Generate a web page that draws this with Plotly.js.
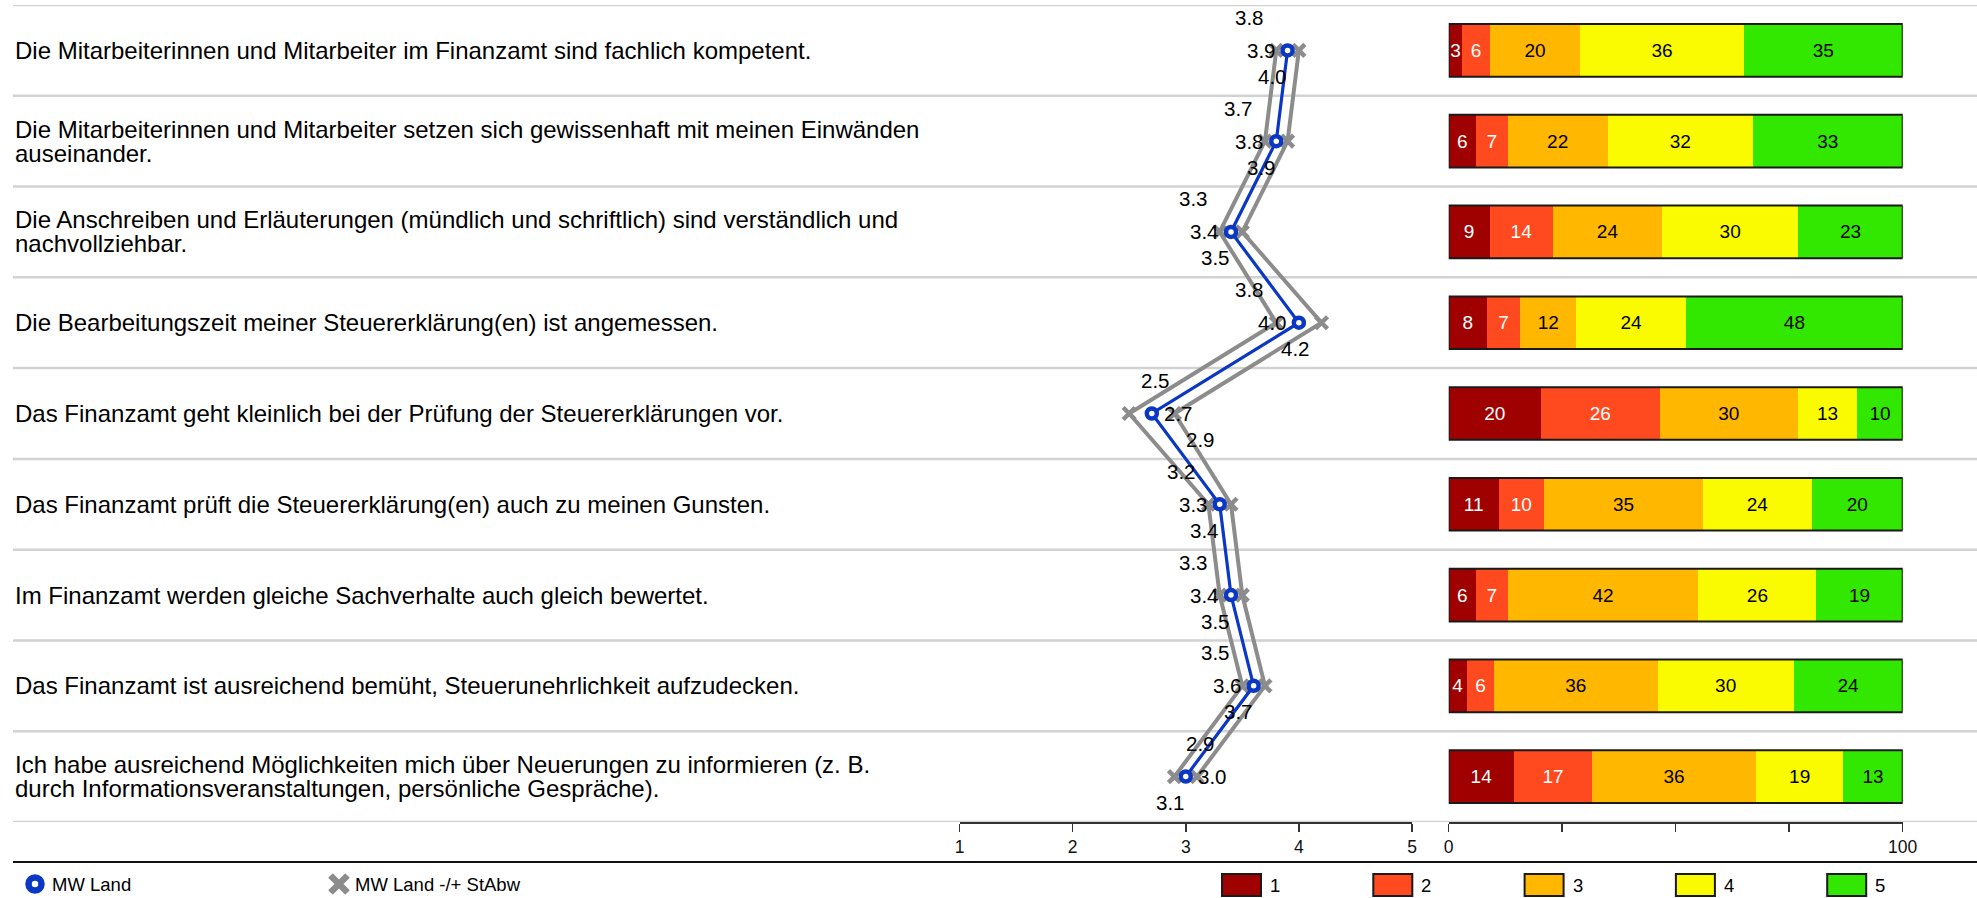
<!DOCTYPE html>
<html>
<head>
<meta charset="utf-8">
<script src="https://cdn.plot.ly/plotly-3.0.1.min.js"></script>
<style>
html, body { margin: 0; padding: 0; background: #ffffff; }
#chart { width: 1977px; height: 898px; }
</style>
</head>
<body>
<div id="chart"></div>
<script>
// ---------------- DATA ----------------
const questions = [
  "Die Mitarbeiterinnen und Mitarbeiter im Finanzamt sind fachlich kompetent.",
  "Die Mitarbeiterinnen und Mitarbeiter setzen sich gewissenhaft mit meinen Einwänden<br>auseinander.",
  "Die Anschreiben und Erläuterungen (mündlich und schriftlich) sind verständlich und<br>nachvollziehbar.",
  "Die Bearbeitungszeit meiner Steuererklärung(en) ist angemessen.",
  "Das Finanzamt geht kleinlich bei der Prüfung der Steuererklärungen vor.",
  "Das Finanzamt prüft die Steuererklärung(en) auch zu meinen Gunsten.",
  "Im Finanzamt werden gleiche Sachverhalte auch gleich bewertet.",
  "Das Finanzamt ist ausreichend bemüht, Steuerunehrlichkeit aufzudecken.",
  "Ich habe ausreichend Möglichkeiten mich über Neuerungen zu informieren (z. B.<br>durch Informationsveranstaltungen, persönliche Gespräche)."
];

const meanValues = [3.9, 3.8, 3.4, 4.0, 2.7, 3.3, 3.4, 3.6, 3.0];
const lowValues  = [3.8, 3.7, 3.3, 3.8, 2.5, 3.2, 3.3, 3.5, 2.9];   // MW - StAbw
const highValues = [4.0, 3.9, 3.5, 4.2, 2.9, 3.4, 3.5, 3.7, 3.1];   // MW + StAbw

const share1 = [3, 6, 9, 8.4, 20.3, 11, 6, 4, 14.4];
const share2 = [6, 7, 14, 7.4, 26.2, 10, 7, 6, 17.2];
const share3 = [20, 22, 24, 12.3, 30.4, 35, 42, 36, 36.1];
const share4 = [36, 32, 30, 24.2, 13.1, 24, 26, 30, 19.2];
const share5 = [35, 33, 23, 47.7, 10.0, 20, 19, 24, 13.1];

const categoryNames = ["1", "2", "3", "4", "5"];
const meanName = "MW Land";
const sdName = "MW Land -/+ StAbw";

const scaleTicks = [1, 2, 3, 4, 5];
const percentTicks = [0, 25, 50, 75, 100];
const percentTickText = ["0", "", "", "", "100"];

// ---------------- STYLE / LAYOUT CONFIG ----------------
const W = 1977, H = 898;
const px = v => v / W;
const py = v => 1 - v / H;
const FONT = "Liberation Sans, Arial, Helvetica, sans-serif";
const segColors = ["#9f0000", "#ff4a1f", "#ffb700", "#fbfb00", "#33e800"];
const segTextColors = ["#ffffff", "#ffffff", "#000000", "#000000", "#000000"];
const grayCol = "#8c8c8c";
const blueCol = "#0a37c4";
// label placement relative to the point (L = left of point, R = right of point)
const lowSide  = ["L", "L", "L", "L", "R", "L", "L", "L", "R"];
const meanSide = ["L", "L", "L", "L", "R", "L", "L", "L", "R"];
const highSide = ["L", "L", "L", "L", "R", "L", "L", "L", "L"];

const rows = questions.map((q, i) => i);
const shares = [share1, share2, share3, share4, share5];
const totals = rows.map(i => shares.reduce((s, arr) => s + arr[i], 0));

// ---------------- TRACES ----------------
const traces = [];
[lowValues, highValues].forEach(vals => {
  traces.push({
    type: "scatter", mode: "lines+markers",
    x: vals, y: rows, xaxis: "x", yaxis: "y",
    line: { color: grayCol, width: 4 },
    marker: { symbol: "x-thin", size: 12, line: { color: grayCol, width: 4.5 } },
    hoverinfo: "x", cliponaxis: false
  });
});
traces.push({
  type: "scatter", mode: "lines+markers",
  x: meanValues, y: rows, xaxis: "x", yaxis: "y",
  line: { color: blueCol, width: 3.2 },
  marker: { symbol: "circle", size: 10, color: "#ffffff", line: { color: blueCol, width: 4.5 } },
  hoverinfo: "x", cliponaxis: false
});
shares.forEach((arr, k) => {
  traces.push({
    type: "bar", orientation: "h",
    x: arr, y: rows, xaxis: "x2", yaxis: "y",
    width: 0.58,
    marker: { color: segColors[k], line: { width: 0 } },
    texttemplate: "%{x:.0f}", textposition: "inside", insidetextanchor: "middle",
    textangle: 0, constraintext: "none",
    textfont: { family: FONT, size: 19, color: segTextColors[k] },
    name: categoryNames[k], hoverinfo: "x"
  });
});
// legend symbols (positioned on a pixel-scaled overlay axis)
traces.push({
  type: "scatter", mode: "markers", x: [35], y: [884], xaxis: "x3", yaxis: "y3",
  marker: { symbol: "circle", size: 13, color: "#ffffff", line: { color: blueCol, width: 6.5 } },
  hoverinfo: "skip", cliponaxis: false
});
traces.push({
  type: "scatter", mode: "markers", x: [339], y: [884], xaxis: "x3", yaxis: "y3",
  marker: { symbol: "x-thin", size: 17, line: { color: grayCol, width: 6.5 } },
  hoverinfo: "skip", cliponaxis: false
});

// ---------------- SHAPES ----------------
const shapes = [];
for (let k = 0; k <= rows.length; k++) {
  shapes.push({
    type: "line", xref: "paper", yref: "y",
    x0: px(13), x1: 1, y0: k - 0.5, y1: k - 0.5,
    line: { color: "#d2d2d2", width: 2.5 }, layer: "below"
  });
}
rows.forEach(i => {
  shapes.push({
    type: "rect", xref: "x2", yref: "y",
    x0: 0, x1: totals[i], y0: i - 0.29, y1: i + 0.29,
    line: { color: "#1a1a1a", width: 2 }, fillcolor: "rgba(0,0,0,0)", layer: "above"
  });
});
shapes.push({
  type: "line", xref: "paper", yref: "paper",
  x0: px(13), x1: 1, y0: py(862), y1: py(862),
  line: { color: "#111111", width: 2 }
});
categoryNames.forEach((c, k) => {
  const x0 = 1222 + k * 151.3;
  shapes.push({
    type: "rect", xref: "paper", yref: "paper",
    x0: px(x0), x1: px(x0 + 39), y0: py(896), y1: py(874),
    line: { color: "#1a1a1a", width: 2 }, fillcolor: segColors[k]
  });
});

// ---------------- ANNOTATIONS ----------------
const annotations = [];
questions.forEach((q, i) => {
  const lines = q.split("<br>");
  const n = lines.length;
  lines.forEach((ln, k) => {
    annotations.push({
      xref: "paper", yref: "y", x: px(13), y: i,
      xanchor: "left", yanchor: "middle", showarrow: false,
      yshift: ((n - 1) / 2 - k) * 24,
      text: ln, font: { family: FONT, size: 24, color: "#000000" }
    });
  });
});
function valueLabel(v, i, side, yshift) {
  annotations.push({
    xref: "x", yref: "y", x: v, y: i,
    xanchor: side === "L" ? "right" : "left", yanchor: "middle",
    xshift: side === "L" ? -10 : 10, yshift: yshift,
    showarrow: false, text: v.toFixed(1),
    font: { family: FONT, size: 20.5, color: "#000000" }
  });
}
rows.forEach(i => {
  valueLabel(lowValues[i], i, lowSide[i], 33);
  valueLabel(meanValues[i], i, meanSide[i], 0);
  valueLabel(highValues[i], i, highSide[i], -26);
});
// legend texts
annotations.push({
  xref: "paper", yref: "paper", x: px(50), y: py(884), xanchor: "left", yanchor: "middle",
  showarrow: false, text: meanName, font: { family: FONT, size: 18.5, color: "#000000" }
});
annotations.push({
  xref: "paper", yref: "paper", x: px(353), y: py(884), xanchor: "left", yanchor: "middle",
  showarrow: false, text: sdName, font: { family: FONT, size: 18.5, color: "#000000" }
});
categoryNames.forEach((c, k) => {
  const x0 = 1222 + k * 151.3;
  annotations.push({
    xref: "paper", yref: "paper", x: px(x0 + 46), y: py(885), xanchor: "left", yanchor: "middle",
    showarrow: false, text: c, font: { family: FONT, size: 18.5, color: "#000000" }
  });
});

// ---------------- LAYOUT ----------------
const axisStyle = {
  anchor: "y", ticks: "outside", ticklen: 8, tickwidth: 1.5, tickcolor: "#333333",
  showline: true, linecolor: "#333333", linewidth: 2,
  showgrid: false, zeroline: false, fixedrange: true,
  tickfont: { family: FONT, size: 17.5, color: "#111111" }
};
const layout = {
  width: W, height: H,
  margin: { l: 0, r: 0, t: 0, b: 0, pad: 0 },
  paper_bgcolor: "#ffffff", plot_bgcolor: "rgba(0,0,0,0)",
  showlegend: false, barmode: "stack", bargap: 0,
  font: { family: FONT, color: "#000000" },
  xaxis: Object.assign({}, axisStyle, {
    domain: [px(959.5), px(1412)], range: [1, 5], tickvals: scaleTicks
  }),
  xaxis2: Object.assign({}, axisStyle, {
    domain: [px(1448.7), px(1902.7)], range: [0, 100],
    tickvals: percentTicks, ticktext: percentTickText
  }),
  yaxis: {
    domain: [py(822), py(5)], range: [rows.length - 0.5, -0.5],
    showticklabels: false, showline: false, showgrid: false, zeroline: false,
    ticks: "", fixedrange: true
  },
  xaxis3: { domain: [0, 1], range: [0, W], anchor: "y3", visible: false, fixedrange: true },
  yaxis3: { domain: [0, 1], range: [H, 0], anchor: "x3", visible: false, fixedrange: true },
  shapes: shapes,
  annotations: annotations
};

Plotly.newPlot("chart", traces, layout, { displayModeBar: false, staticPlot: true });
</script>
</body>
</html>
